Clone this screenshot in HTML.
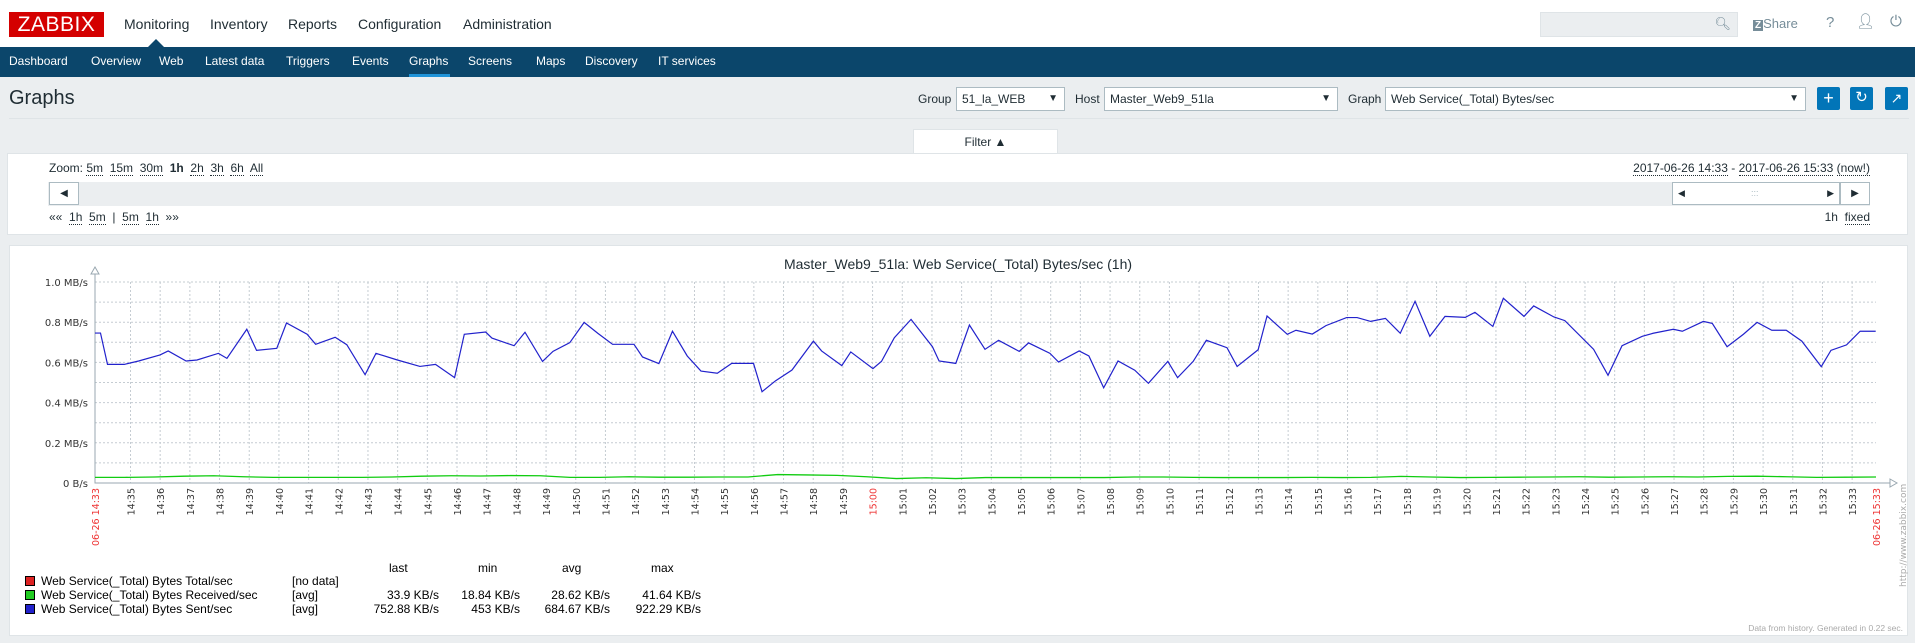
<!DOCTYPE html>
<html><head><meta charset="utf-8"><style>
*{box-sizing:border-box;margin:0;padding:0}
body{width:1915px;height:643px;background:#ebeef0;font-family:"Liberation Sans",sans-serif;position:relative;overflow:hidden;color:#1f2c33}
.a{position:absolute;white-space:nowrap}
.nav{font-size:12px;color:#fff;top:54px}
.top{font-size:14px;color:#1f2c33;top:16px}
.sel{position:absolute;background:#fff;border:1px solid #acbbc2;height:24px;top:87px;font-size:12px;padding:4px 5px}
.sel:after{content:"▼";position:absolute;right:6px;top:5px;font-size:10px}
.btn{position:absolute;top:87px;width:23px;height:23px;background:#0275b8;border-radius:2px;color:#fff;text-align:center;font-size:18px;line-height:22px}
.u{border-bottom:1px dotted #1f2c33}
.lg{font-size:12px;color:#000}
</style></head><body>
<div class="a" style="left:0;top:0;width:1915px;height:47px;background:#fff"></div>
<div class="a" style="left:9px;top:12px;width:95px;height:25px;background:#d40000;color:#fff;font-size:21px;line-height:25px;text-align:center;letter-spacing:0.5px">ZABBIX</div>
<div class="a top" style="left:124px">Monitoring</div>
<div class="a top" style="left:210px">Inventory</div>
<div class="a top" style="left:288px">Reports</div>
<div class="a top" style="left:358px">Configuration</div>
<div class="a top" style="left:463px">Administration</div>
<div class="a" style="left:1540px;top:12px;width:198px;height:25px;background:#ebeef0;border:1px solid #dfe4e7"><span style="position:absolute;right:6px;top:3px;font-size:13px;color:#768d99">&#x1F50D;&#xFE0E;</span></div>
<div class="a" style="left:1753px;top:16px;font-size:13px;color:#768d99"><b style="background:#768d99;color:#fff;font-size:10px;padding:0 2px">Z</b>Share</div>
<div class="a" style="left:1826px;top:14px;font-size:15px;color:#768d99">?</div>
<div class="a" style="left:1856px;top:12px;font-size:15px;color:#768d99">&#x1F464;&#xFE0E;</div>
<div class="a" style="left:1890px;top:13px;font-size:15px;color:#768d99">&#x23FB;</div>
<div class="a" style="left:148px;top:39px;width:0;height:0;border-left:8px solid transparent;border-right:8px solid transparent;border-bottom:8px solid #0b466b"></div>
<div class="a" style="left:0;top:47px;width:1915px;height:30px;background:#0b466b"></div>
<div class="a nav" style="left:9px">Dashboard</div>
<div class="a nav" style="left:91px">Overview</div>
<div class="a nav" style="left:159px">Web</div>
<div class="a nav" style="left:205px">Latest data</div>
<div class="a nav" style="left:286px">Triggers</div>
<div class="a nav" style="left:352px">Events</div>
<div class="a nav" style="left:409px">Graphs</div>
<div class="a" style="left:409px;top:74px;width:41px;height:3px;background:#1f93d8"></div>
<div class="a nav" style="left:468px">Screens</div>
<div class="a nav" style="left:536px">Maps</div>
<div class="a nav" style="left:585px">Discovery</div>
<div class="a nav" style="left:658px">IT services</div>
<div class="a" style="left:9px;top:87px;font-size:20px">Graphs</div>
<div class="a" style="left:9px;top:118px;width:1900px;height:1px;background:#dfe4e7"></div>
<div class="a" style="left:918px;top:92px;font-size:12px">Group</div>
<div class="sel" style="left:956px;width:109px">51_la_WEB</div>
<div class="a" style="left:1075px;top:92px;font-size:12px">Host</div>
<div class="sel" style="left:1104px;width:234px">Master_Web9_51la</div>
<div class="a" style="left:1348px;top:92px;font-size:12px">Graph</div>
<div class="sel" style="left:1385px;width:421px">Web Service(_Total) Bytes/sec</div>
<div class="btn" style="left:1817px">+</div>
<div class="btn" style="left:1850px;font-size:15px">&#x21BB;</div>
<div class="btn" style="left:1885px;font-size:14px">&#x2197;</div>
<div class="a" style="left:913px;top:129px;width:145px;height:25px;background:#fff;border:1px solid #dfe4e7;border-bottom:none;font-size:12px;text-align:center;line-height:24px">Filter ▲</div>
<div class="a" style="left:7px;top:153px;width:1901px;height:82px;background:#fff;border:1px solid #dfe4e7"></div>
<div class="a" style="left:49px;top:161px;font-size:12px">Zoom: <span class="u">5m</span>&nbsp; <span class="u">15m</span>&nbsp; <span class="u">30m</span>&nbsp; <b>1h</b>&nbsp; <span class="u">2h</span>&nbsp; <span class="u">3h</span>&nbsp; <span class="u">6h</span>&nbsp; <span class="u">All</span></div>
<div class="a" style="right:45px;top:161px;font-size:12px"><span class="u">2017-06-26 14:33</span> - <span class="u">2017-06-26 15:33</span> <span class="u">(now!)</span></div>
<div class="a" style="left:48px;top:182px;width:1822px;height:24px;background:#ebeef0"></div>
<div class="a" style="left:49px;top:182px;width:30px;height:23px;background:#fff;border:1px solid #acbbc2;font-size:10px;text-align:center;line-height:21px">◀</div>
<div class="a" style="left:1672px;top:182px;width:168px;height:23px;background:#fff;border:1px solid #acbbc2;font-size:9px;line-height:21px"><span style="position:absolute;left:5px">◀</span><span style="position:absolute;left:78px;color:#acbbc2">:::</span><span style="position:absolute;right:5px">▶</span></div>
<div class="a" style="left:1840px;top:182px;width:30px;height:23px;background:#fff;border:1px solid #acbbc2;font-size:10px;text-align:center;line-height:21px">▶</div>
<div class="a" style="left:49px;top:210px;font-size:12px">«« &nbsp;<span class="u">1h</span>&nbsp; <span class="u">5m</span>&nbsp; | &nbsp;<span class="u">5m</span>&nbsp; <span class="u">1h</span>&nbsp; »»</div>
<div class="a" style="right:45px;top:210px;font-size:12px">1h &nbsp;<span class="u">fixed</span></div>
<div class="a" style="left:9px;top:245px;width:1899px;height:391px;background:#fff;border:1px solid #dfe4e7"></div>
<svg class="a" style="left:0;top:0" width="1915" height="643" font-family="DejaVu Sans, sans-serif">
<text x="958" y="269" text-anchor="middle" font-size="14" fill="#1f2c33" font-family="Liberation Sans, sans-serif">Master_Web9_51la: Web Service(_Total) Bytes/sec (1h)</text>
<g id="grid"></g><g id="series"></g><g id="labels"></g>
<text transform="translate(1906,587) rotate(-90)" font-size="9" fill="#aaa">http://www.zabbix.com</text>
<text x="1903" y="631" text-anchor="end" font-size="8.5" fill="#aaa" font-family="Liberation Sans, sans-serif">Data from history. Generated in 0.22 sec.</text>
</svg>
<div class="a lg" style="left:0;top:561px;width:720px">
<span class="a" style="left:389px">last</span><span class="a" style="left:478px">min</span><span class="a" style="left:562px">avg</span><span class="a" style="left:651px">max</span></div>
<div>
<div class="a" style="left:25px;top:576px;width:10px;height:10px;background:#dd2222;border:1px solid #000"></div>
<div class="a lg" style="left:41px;top:574px">Web Service(_Total) Bytes Total/sec</div>
<div class="a lg" style="left:292px;top:574px">[no data]</div></div>
<div>
<div class="a" style="left:25px;top:590px;width:10px;height:10px;background:#22cc22;border:1px solid #000"></div>
<div class="a lg" style="left:41px;top:588px">Web Service(_Total) Bytes Received/sec</div>
<div class="a lg" style="left:292px;top:588px">[avg]</div>
<div class="a lg" style="right:1476px;top:588px">33.9 KB/s</div><div class="a lg" style="right:1395px;top:588px">18.84 KB/s</div><div class="a lg" style="right:1305px;top:588px">28.62 KB/s</div><div class="a lg" style="right:1214px;top:588px">41.64 KB/s</div></div>
<div>
<div class="a" style="left:25px;top:604px;width:10px;height:10px;background:#2222cc;border:1px solid #000"></div>
<div class="a lg" style="left:41px;top:602px">Web Service(_Total) Bytes Sent/sec</div>
<div class="a lg" style="left:292px;top:602px">[avg]</div>
<div class="a lg" style="right:1476px;top:602px">752.88 KB/s</div><div class="a lg" style="right:1395px;top:602px">453 KB/s</div><div class="a lg" style="right:1305px;top:602px">684.67 KB/s</div><div class="a lg" style="right:1214px;top:602px">922.29 KB/s</div></div>
<script>
const yTicks=[0,0.2,0.4,0.6,0.8,1.0];
const yTickLabels=["0 B/s","0.2 MB/s","0.4 MB/s","0.6 MB/s","0.8 MB/s","1.0 MB/s"];
const xTickMinutes=[];for(let m=35;m<=93;m++)xTickMinutes.push(m);
const sentTimes=[0,0.185,0.421,0.985,1.47,2.191,2.466,3.069,3.436,4.157,4.445,5.114,5.442,6.124,6.451,7.146,7.434,8.09,8.483,9.099,9.466,10.187,10.947,11.471,12.114,12.441,13.162,13.372,14.119,14.486,15.076,15.43,15.994,16.479,16.937,17.436,18.157,18.445,18.996,19.454,19.952,20.414,20.965,21.45,22.184,22.472,22.931,23.481,24.202,24.478,25.159,25.461,26.208,26.496,26.929,27.492,28.213,28.436,28.999,29.458,29.983,30.441,31.136,31.451,32.172,32.46,33.155,33.483,33.981,34.465,35.029,35.488,36.143,36.471,36.996,37.441,38.136,38.477,39.185,39.485,40.167,40.46,41.01,41.469,42.164,42.518,42.976,43.474,43.973,44.471,44.969,45.48,46.162,46.489,47.092,47.446,48.141,48.468,49.15,49.517,50.487,50.972,51.444,52.126,52.493,53.174,53.476,54.184,54.485,54.983,55.534,55.993,56.491,56.976,57.5,58.156,58.483,59.007,59.466,59.99];
const sentValues=[0.746,0.746,0.59,0.59,0.607,0.637,0.657,0.607,0.612,0.645,0.62,0.765,0.66,0.67,0.796,0.74,0.69,0.725,0.688,0.539,0.645,0.612,0.58,0.59,0.524,0.74,0.751,0.721,0.683,0.75,0.605,0.655,0.698,0.799,0.745,0.69,0.69,0.627,0.594,0.755,0.632,0.557,0.546,0.595,0.595,0.454,0.509,0.562,0.706,0.657,0.584,0.652,0.569,0.605,0.723,0.814,0.678,0.607,0.595,0.786,0.665,0.71,0.655,0.697,0.645,0.602,0.657,0.632,0.474,0.607,0.561,0.496,0.605,0.524,0.605,0.71,0.673,0.58,0.663,0.831,0.74,0.76,0.741,0.783,0.823,0.823,0.804,0.819,0.745,0.904,0.73,0.829,0.824,0.849,0.779,0.919,0.829,0.881,0.826,0.808,0.665,0.536,0.683,0.73,0.745,0.765,0.755,0.804,0.794,0.678,0.74,0.799,0.76,0.76,0.706,0.579,0.66,0.687,0.755,0.755];
const recvValues=[0.028,0.028,0.03,0.034,0.036,0.031,0.028,0.028,0.028,0.028,0.03,0.034,0.036,0.035,0.037,0.036,0.028,0.028,0.031,0.029,0.029,0.03,0.03,0.042,0.04,0.038,0.031,0.022,0.026,0.022,0.027,0.027,0.027,0.027,0.027,0.03,0.03,0.028,0.027,0.027,0.027,0.028,0.027,0.028,0.033,0.03,0.027,0.028,0.029,0.03,0.031,0.029,0.03,0.031,0.03,0.033,0.034,0.031,0.028,0.029,0.03];
const X0=95,X1=1876,Y0=483,Y1=282,T=60,START=1.196-35;
const xs=t=>X0+(X1-X0)*t/T, ys=v=>Y0-(Y0-Y1)*v;
const NS="http://www.w3.org/2000/svg";
function mk(tag,at,parent){const e=document.createElementNS(NS,tag);for(const k in at)e.setAttribute(k,at[k]);parent.appendChild(e);return e;}
const grid=document.getElementById('grid'),ser=document.getElementById('series'),lab=document.getElementById('labels');
for(let i=1;i<=10;i++){const v=i*0.1;const l=mk('line',{x1:X0,x2:X1,y1:ys(v),y2:ys(v),stroke:'#c5ccd2','stroke-dasharray':'2,2'},grid);

}
xTickMinutes.forEach(m=>{const x=xs(START+m);const l=mk('line',{x1:x,x2:x,y1:Y1,y2:Y0,stroke:'#c5ccd2','stroke-dasharray':'2,2'},grid);


const h=Math.floor(m/60)+14, mm=m%60;const txt=h+':'+String(mm).padStart(2,'0');
const t=mk('text',{transform:`translate(${x+4},${Y0+5}) rotate(-90)`,'text-anchor':'end','font-size':'9.5',fill:txt==='15:00'?'#e33':'#333'},lab);t.textContent=txt;

});
['06-26 14:33','06-26 15:33'].forEach((s,i)=>{const x=i?X1:X0;const t=mk('text',{transform:`translate(${x+4},${Y0+5}) rotate(-90)`,'text-anchor':'end','font-size':'9.5',fill:'#e33'},lab);t.textContent=s;

});
yTicks.forEach((v,i)=>{const t=mk('text',{x:88,y:ys(v)+4,'text-anchor':'end','font-size':'10',fill:'#333'},lab);t.textContent=yTickLabels[i];

});
const ax=mk('path',{d:`M${X0},${Y1-8}V${Y0}H${X1+14}`,stroke:'#99a7b0',fill:'none'},grid);


mk('path',{d:`M${X0-4},${Y1-8}l4,-7l4,7z`,fill:'#fff',stroke:'#99a7b0'},grid);
mk('path',{d:`M${X1+14},${Y0-4}l7,4l-7,4z`,fill:'#fff',stroke:'#99a7b0'},grid);
const gp=mk('polyline',{points:recvValues.map((v,i)=>xs(i)+','+ys(v)).join(' '),fill:'none',stroke:'#1c1','stroke-width':1.3},ser);


const bp=mk('polyline',{points:sentValues.map((v,i)=>xs(sentTimes[i])+','+ys(v)).join(' '),fill:'none',stroke:'#22c','stroke-width':1.2},ser);


</script>
</body></html>
